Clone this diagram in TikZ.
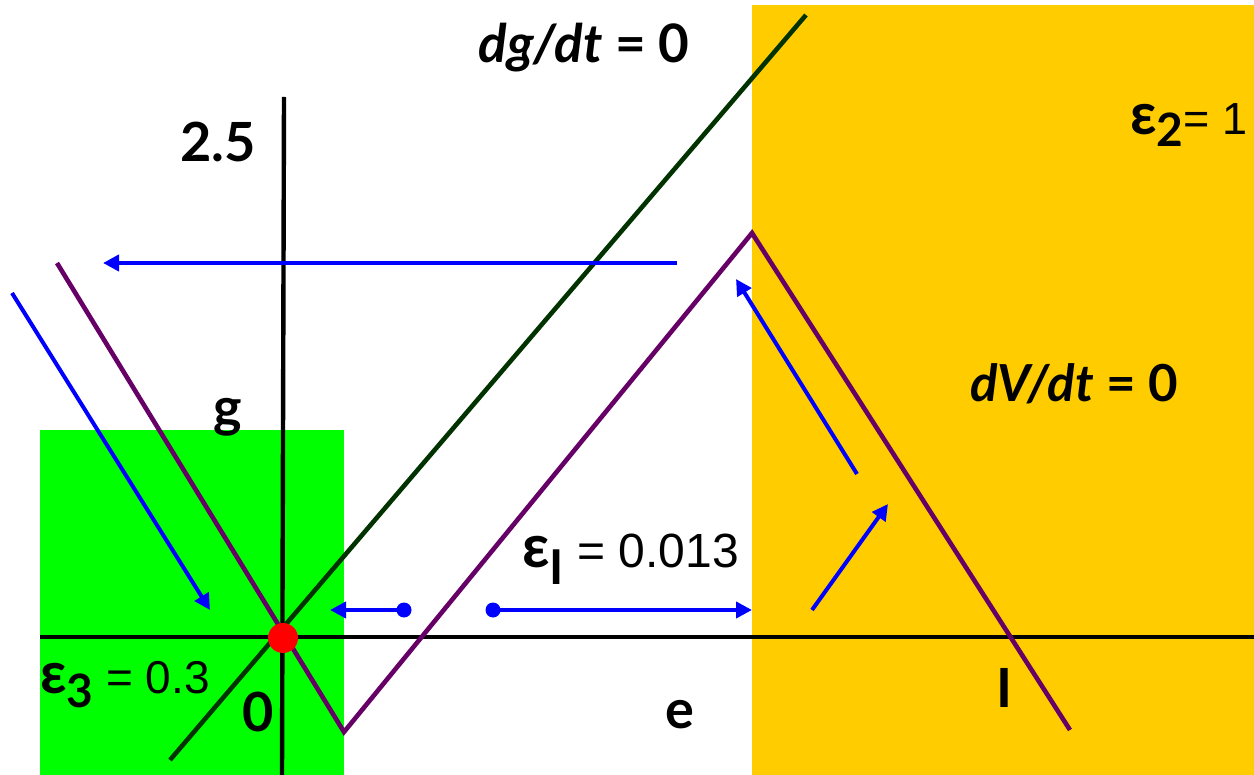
\documentclass[tikz,border=0pt]{standalone}
\usepackage{fontspec}
\setmainfont{Lato}
\newfontfamily\arial{Liberation Sans}
\usetikzlibrary{arrows.meta}
\definecolor{bgreen}{HTML}{00FF00}
\definecolor{gold}{HTML}{FFCC00}
\definecolor{dgreen}{HTML}{003300}
\definecolor{purp}{HTML}{660066}
\definecolor{bblue}{HTML}{0000FF}
\definecolor{dred}{HTML}{FF0000}
\tikzset{
  axisline/.style={line width=2.2pt,black},
  nullg/.style={line width=2.3pt,dgreen},
  nullv/.style={line width=2.3pt,purp,line join=miter},
  flow/.style={line width=2pt,bblue,-{Triangle[length=8pt,width=8pt]}},
  startdot/.style={circle,fill=bblue,inner sep=0pt,minimum size=7.5pt},
  lbl/.style={inner sep=0pt,font=\bfseries},
}
\begin{document}
\begin{tikzpicture}[x=0.5pt,y=-0.5pt]
\useasboundingbox (0,0) rectangle (1254,775);
% regions
\fill[bgreen] (40,430) rectangle (344,775);
\fill[gold] (752,5) rectangle (1254,775);
% axes
\coordinate (xl) at (40,637);
\coordinate (xr) at (1254,637);
\coordinate (yt) at (284,97);
\coordinate (yb) at (282,775);
\draw[axisline] (xl) -- (xr);
\draw[axisline] (yt) -- (yb);
% g-nullcline
\coordinate (g1) at (170,760);
\coordinate (g2) at (806,15);
\draw[nullg] (g1) -- (g2);
% V-nullcline
\coordinate (v1) at (57,263);
\coordinate (v2) at (344,732);
\coordinate (v3) at (752,233);
\coordinate (v4) at (1070,730);
\draw[nullv] (v1) -- (v2) -- (v3) -- (v4);
% fixed point
\node[circle,fill=dred,inner sep=0pt,minimum size=15pt] (fp) at (283,638) {};
% flow arrows
\coordinate (a1s) at (677,263); \coordinate (a1e) at (103,263);
\draw[flow] (a1s) -- (a1e);
\coordinate (a2s) at (12,293); \coordinate (a2e) at (210,610);
\draw[flow] (a2s) -- (a2e);
\node[startdot] (d3) at (404,610) {};
\coordinate (a3e) at (330,610);
\draw[flow] (d3.center) -- (a3e);
\node[startdot] (d4) at (493,610) {};
\coordinate (a4e) at (752,610);
\draw[flow] (d4.center) -- (a4e);
\coordinate (a5s) at (812,610); \coordinate (a5e) at (888,504);
\draw[flow] (a5s) -- (a5e);
\coordinate (a6s) at (857,474); \coordinate (a6e) at (736,279);
\draw[flow] (a6s) -- (a6e);
% labels
\node[lbl,font=\fontsize{26.5}{30}\selectfont\bfseries] (tg) at (584,48) {\itshape dg/dt\/\upshape{} = 0};
\node[lbl,font=\fontsize{25.5}{30}\selectfont\bfseries] (tv) at (1074,384) {\itshape dV/dt\/\upshape{} = 0};
\node[lbl,font=\fontsize{27}{30}\selectfont\bfseries] (t25) at (218,142) {2.5};
\node[lbl,font=\fontsize{27}{30}\selectfont\bfseries] (tgl) at (228,417) {g};
\node[lbl,font=\fontsize{27}{30}\selectfont\bfseries] (t0) at (258,712) {0};
\node[lbl,font=\fontsize{27}{30}\selectfont\bfseries] (te) at (680,715) {e};
\node[lbl,font=\fontsize{27}{30}\selectfont\bfseries] (tI) at (1004,688) {I};
\node[inner sep=0pt,anchor=base west] (e2) at (1130,135) {\fontsize{29}{30}\selectfont\bfseries ε\raisebox{-6pt}{\fontsize{23}{24}\selectfont 2}\arial\mdseries\fontsize{22.5}{24}\selectfont= 1};
\node[inner sep=0pt,anchor=base west] (e1) at (522,567) {\fontsize{30}{30}\selectfont\bfseries ε\raisebox{-9pt}{\fontsize{24}{24}\selectfont I}\arial\mdseries\fontsize{24}{24}\selectfont{} = 0.013};
\node[inner sep=0pt,anchor=base west] (e3) at (40,693) {\fontsize{29}{30}\selectfont\bfseries ε\raisebox{-7pt}{\fontsize{23}{24}\selectfont 3}\arial\mdseries\fontsize{23}{24}\selectfont{} = 0.3};
\end{tikzpicture}
\end{document}
